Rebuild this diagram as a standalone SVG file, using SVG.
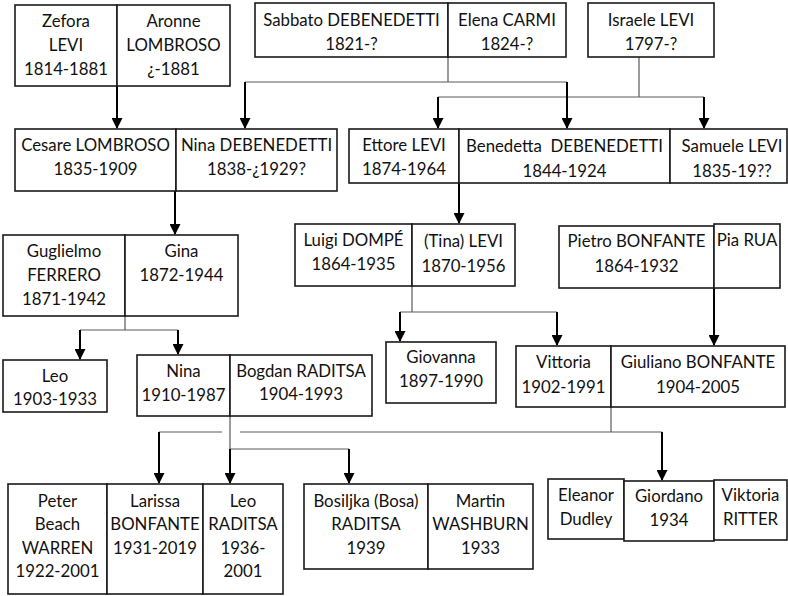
<svg xmlns="http://www.w3.org/2000/svg" width="788" height="596" viewBox="0 0 788 596">
  <style>
    .box { fill: #ffffff; stroke: #1a1a1a; stroke-width: 1.6; }
    text { font-family: Lato, "Liberation Sans", sans-serif; font-size: 16.8px; fill: #111111; text-anchor: middle; }
    .bus { fill: none; stroke: #5a5a5a; stroke-width: 1.2; }
    .arrow { fill: none; stroke: #000000; stroke-width: 2; marker-end: url(#head); }
  </style>
  <defs>
    <marker id="head" markerUnits="userSpaceOnUse" markerWidth="11" markerHeight="11" refX="10" refY="5.5" orient="auto">
      <path d="M0,0 L11,5.5 L0,11 z" fill="#000000"/>
    </marker>
  </defs>
  <rect width="788" height="596" fill="#ffffff"/>

  <!-- Connectors: thin family buses, thick arrows down to each child -->
  <g id="connectors">
    <path class="bus" d="M448,57 V82 M245,82 H567"/>
    <path class="bus" d="M639,57 V97 M438,97 H704"/>
    <path class="bus" d="M125,316 V330 M80,330 H178"/>
    <path class="bus" d="M412,286 V312 M400,312 H557"/>
    <path class="bus" d="M611,407 V432 M159,432 H222 M240,432 H662"/>
    <path class="bus" d="M230,416 V449 H349"/>
    <path class="arrow" d="M117,86 V128"/>
    <path class="arrow" d="M245,82 V128"/>
    <path class="arrow" d="M567,82 V128"/>
    <path class="arrow" d="M438,97 V128"/>
    <path class="arrow" d="M704,97 V128"/>
    <path class="arrow" d="M175,191 V234"/>
    <path class="arrow" d="M459,183 V223"/>
    <path class="arrow" d="M80,330 V359"/>
    <path class="arrow" d="M178,330 V354"/>
    <path class="arrow" d="M400,312 V341"/>
    <path class="arrow" d="M557,312 V345"/>
    <path class="arrow" d="M714,288 V345"/>
    <path class="arrow" d="M159,432 V483"/>
    <path class="arrow" d="M662,432 V480"/>
    <path class="arrow" d="M230,449 V483"/>
    <path class="arrow" d="M349,449 V483"/>
  </g>

  <!-- Generation 1 -->
  <g id="zefora">
    <rect class="box" x="15" y="5" width="102" height="81"/>
    <text x="66" y="27">Zefora</text>
    <text x="66" y="51">LEVI</text>
    <text x="66" y="75">1814-1881</text>
  </g>
  <g id="aronne">
    <rect class="box" x="117" y="5" width="113" height="81"/>
    <text x="173.5" y="27">Aronne</text>
    <text x="173.5" y="51">LOMBROSO</text>
    <text x="173.5" y="75">¿-1881</text>
  </g>
  <g id="sabbato">
    <rect class="box" x="255" y="3" width="193" height="54"/>
    <text x="351.5" y="26">Sabbato DEBENEDETTI</text>
    <text x="351.5" y="50">1821-?</text>
  </g>
  <g id="elena">
    <rect class="box" x="448" y="3" width="118" height="54"/>
    <text x="507" y="26">Elena CARMI</text>
    <text x="507" y="50">1824-?</text>
  </g>
  <g id="israele">
    <rect class="box" x="588" y="3" width="126" height="54"/>
    <text x="651" y="25.5">Israele LEVI</text>
    <text x="651" y="50">1797-?</text>
  </g>

  <!-- Generation 2 -->
  <g id="cesare">
    <rect class="box" x="15" y="129" width="161" height="62"/>
    <text x="95.5" y="151">Cesare LOMBROSO</text>
    <text x="95.5" y="175">1835-1909</text>
  </g>
  <g id="nina-debenedetti">
    <rect class="box" x="176" y="129" width="161" height="62"/>
    <text x="256.5" y="151">Nina DEBENEDETTI</text>
    <text x="256.5" y="175">1838-¿1929?</text>
  </g>
  <g id="ettore">
    <rect class="box" x="349" y="129" width="110" height="54"/>
    <text x="404" y="151">Ettore LEVI</text>
    <text x="404" y="175">1874-1964</text>
  </g>
  <g id="benedetta">
    <rect class="box" x="459" y="129" width="211" height="54"/>
    <text x="564.5" y="151.5" xml:space="preserve">Benedetta  DEBENEDETTI</text>
    <text x="564.5" y="176.5">1844-1924</text>
  </g>
  <g id="samuele">
    <rect class="box" x="670" y="129" width="117" height="54"/>
    <text x="732" y="151.5">Samuele LEVI</text>
    <text x="732" y="176.5">1835-19??</text>
  </g>

  <!-- Generation 3 -->
  <g id="guglielmo">
    <rect class="box" x="3" y="235" width="122" height="81"/>
    <text x="64" y="257">Guglielmo</text>
    <text x="64" y="281">FERRERO</text>
    <text x="64" y="305">1871-1942</text>
  </g>
  <g id="gina">
    <rect class="box" x="125" y="235" width="113" height="81"/>
    <text x="181.5" y="257">Gina</text>
    <text x="181.5" y="281">1872-1944</text>
  </g>
  <g id="luigi">
    <rect class="box" x="295" y="224" width="117" height="62"/>
    <text x="353.5" y="246">Luigi DOMPÉ</text>
    <text x="353.5" y="270">1864-1935</text>
  </g>
  <g id="tina">
    <rect class="box" x="412" y="224" width="103" height="62"/>
    <text x="463.5" y="247">(Tina) LEVI</text>
    <text x="463.5" y="271.5">1870-1956</text>
  </g>
  <g id="pietro">
    <rect class="box" x="559" y="226" width="155" height="62"/>
    <text x="636.5" y="247">Pietro BONFANTE</text>
    <text x="636.5" y="272">1864-1932</text>
  </g>
  <g id="pia">
    <rect class="box" x="714" y="224" width="66" height="64"/>
    <text x="747" y="246">Pia RUA</text>
  </g>

  <!-- Generation 4 -->
  <g id="leo-ferrero">
    <rect class="box" x="3" y="360" width="104" height="52"/>
    <text x="55" y="381.5">Leo</text>
    <text x="55" y="405">1903-1933</text>
  </g>
  <g id="nina-ferrero">
    <rect class="box" x="137" y="355" width="93" height="61"/>
    <text x="183.5" y="377">Nina</text>
    <text x="183.5" y="401">1910-1987</text>
  </g>
  <g id="bogdan">
    <rect class="box" x="230" y="355" width="142" height="61"/>
    <text x="301" y="377">Bogdan RADITSA</text>
    <text x="301" y="400">1904-1993</text>
  </g>
  <g id="giovanna">
    <rect class="box" x="386" y="342" width="110" height="61"/>
    <text x="441" y="362.5">Giovanna</text>
    <text x="441" y="387">1897-1990</text>
  </g>
  <g id="vittoria">
    <rect class="box" x="516" y="346" width="95" height="61"/>
    <text x="563.5" y="368">Vittoria</text>
    <text x="563.5" y="392.5">1902-1991</text>
  </g>
  <g id="giuliano">
    <rect class="box" x="611" y="346" width="174" height="61"/>
    <text x="698" y="368">Giuliano BONFANTE</text>
    <text x="698" y="392.5">1904-2005</text>
  </g>

  <!-- Generation 5 -->
  <g id="peter">
    <rect class="box" x="8" y="484" width="99" height="110"/>
    <text x="57.5" y="506.5">Peter</text>
    <text x="57.5" y="530">Beach</text>
    <text x="57.5" y="553.5">WARREN</text>
    <text x="57.5" y="577">1922-2001</text>
  </g>
  <g id="larissa">
    <rect class="box" x="107" y="484" width="96" height="110"/>
    <text x="155" y="506.5">Larissa</text>
    <text x="155" y="530">BONFANTE</text>
    <text x="155" y="553.5">1931-2019</text>
  </g>
  <g id="leo-raditsa">
    <rect class="box" x="203" y="484" width="80" height="110"/>
    <text x="243" y="506.5">Leo</text>
    <text x="243" y="530">RADITSA</text>
    <text x="243" y="553.5">1936-</text>
    <text x="243" y="577">2001</text>
  </g>
  <g id="bosiljka">
    <rect class="box" x="304" y="484" width="124" height="85"/>
    <text x="366" y="506.5">Bosiljka (Bosa)</text>
    <text x="366" y="530">RADITSA</text>
    <text x="366" y="554">1939</text>
  </g>
  <g id="martin">
    <rect class="box" x="428" y="484" width="105" height="85"/>
    <text x="480.5" y="506.5">Martin</text>
    <text x="480.5" y="530">WASHBURN</text>
    <text x="480.5" y="554">1933</text>
  </g>
  <g id="eleanor">
    <rect class="box" x="548" y="479" width="76" height="60"/>
    <text x="586" y="501">Eleanor</text>
    <text x="586" y="525">Dudley</text>
  </g>
  <g id="giordano">
    <rect class="box" x="624" y="481" width="90" height="60"/>
    <text x="669" y="502">Giordano</text>
    <text x="669" y="526">1934</text>
  </g>
  <g id="viktoria">
    <rect class="box" x="714" y="480" width="73" height="60"/>
    <text x="750.5" y="501">Viktoria</text>
    <text x="750.5" y="525">RITTER</text>
  </g>
</svg>
